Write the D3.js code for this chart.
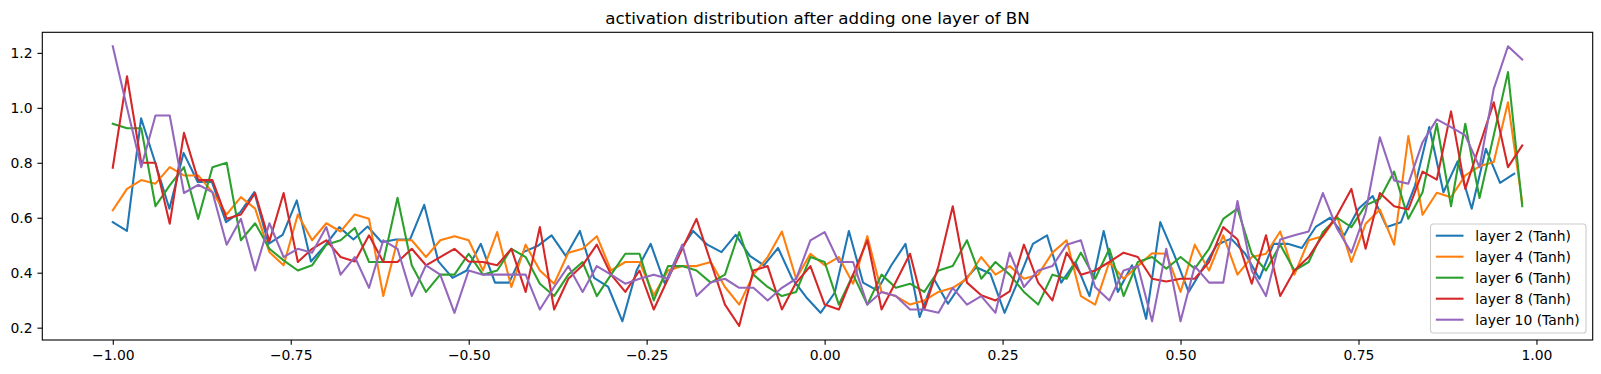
<!DOCTYPE html>
<html>
<head>
<meta charset="utf-8">
<script src="https://cdn.jsdelivr.net/npm/d3@7"></script>
<style>
  body { margin: 0; background: #fff; }
  svg text { font-family: "DejaVu Sans", sans-serif; }
</style>
</head>
<body>
<svg id="chart" width="1601" height="374"></svg>
<script>
// histogram densities, one value per bin (100 bins)
const layer2 = [0.584, 0.552, 0.962, 0.80, 0.633, 0.836, 0.73, 0.73, 0.584, 0.62,
  0.693, 0.505, 0.538, 0.663, 0.441, 0.499, 0.566, 0.521, 0.568, 0.511,
  0.521, 0.521, 0.647, 0.441, 0.381, 0.408, 0.505, 0.364, 0.364, 0.475,
  0.497, 0.536, 0.461, 0.552, 0.381, 0.348, 0.223, 0.408, 0.505, 0.36,
  0.475, 0.552, 0.502, 0.475, 0.538, 0.461, 0.427, 0.49, 0.378, 0.31,
  0.254, 0.327, 0.552, 0.364, 0.336, 0.427, 0.505, 0.239, 0.378, 0.287,
  0.364, 0.42, 0.396, 0.254, 0.376, 0.505, 0.536, 0.364, 0.439, 0.315,
  0.552, 0.33, 0.427, 0.232, 0.584, 0.463, 0.33, 0.415, 0.502, 0.524,
  0.469, 0.378, 0.505, 0.505, 0.49, 0.568, 0.60, 0.536, 0.633, 0.679,
  0.566, 0.584, 0.718, 0.93, 0.693, 0.805, 0.633, 0.851, 0.727, 0.76];

const layer4 = [0.627, 0.705, 0.737, 0.724, 0.784, 0.754, 0.754, 0.693, 0.612, 0.675,
  0.633, 0.475, 0.427, 0.612, 0.518, 0.58, 0.55, 0.612, 0.596, 0.315,
  0.518, 0.518, 0.457, 0.518, 0.533, 0.518, 0.408, 0.548, 0.348, 0.502,
  0.408, 0.36, 0.473, 0.487, 0.533, 0.408, 0.439, 0.439, 0.318, 0.408,
  0.424, 0.424, 0.439, 0.348, 0.284, 0.393, 0.457, 0.55, 0.378, 0.469,
  0.427, 0.457, 0.36, 0.533, 0.33, 0.315, 0.284, 0.299, 0.33, 0.345,
  0.378, 0.457, 0.393, 0.424, 0.378, 0.393, 0.473, 0.518, 0.315, 0.284,
  0.439, 0.378, 0.424, 0.471, 0.469, 0.33, 0.502, 0.408, 0.536, 0.393,
  0.457, 0.469, 0.55, 0.393, 0.518, 0.533, 0.605, 0.439, 0.578, 0.63,
  0.502, 0.897, 0.611, 0.691, 0.675, 0.754, 0.787, 0.803, 1.02, 0.655];

const layer6 = [0.942, 0.926, 0.926, 0.642, 0.718, 0.784, 0.596, 0.784, 0.80, 0.518,
  0.58, 0.487, 0.445, 0.408, 0.427, 0.502, 0.518, 0.563, 0.439, 0.439,
  0.673, 0.427, 0.33, 0.393, 0.393, 0.469, 0.393, 0.408, 0.487, 0.457,
  0.36, 0.315, 0.393, 0.439, 0.315, 0.393, 0.469, 0.469, 0.299, 0.424,
  0.424, 0.408, 0.364, 0.393, 0.548, 0.393, 0.348, 0.315, 0.33, 0.457,
  0.439, 0.284, 0.393, 0.284, 0.393, 0.345, 0.36, 0.33, 0.408, 0.424,
  0.518, 0.378, 0.439, 0.393, 0.33, 0.284, 0.393, 0.378, 0.473, 0.378,
  0.487, 0.315, 0.439, 0.457, 0.415, 0.457, 0.415, 0.487, 0.596, 0.633,
  0.469, 0.408, 0.502, 0.408, 0.439, 0.548, 0.60, 0.566, 0.645, 0.669,
  0.768, 0.596, 0.693, 0.942, 0.642, 0.942, 0.672, 0.90, 1.13, 0.642];

const layer8 = [0.782, 1.115, 0.80, 0.80, 0.578, 0.909, 0.737, 0.737, 0.596, 0.612,
  0.69, 0.514, 0.69, 0.439, 0.487, 0.518, 0.457, 0.441, 0.536, 0.439,
  0.439, 0.487, 0.427, 0.457, 0.487, 0.441, 0.439, 0.427, 0.487, 0.33,
  0.566, 0.266, 0.378, 0.427, 0.502, 0.393, 0.33, 0.408, 0.266, 0.378,
  0.487, 0.596, 0.439, 0.284, 0.206, 0.408, 0.424, 0.266, 0.364, 0.424,
  0.284, 0.266, 0.393, 0.518, 0.266, 0.366, 0.469, 0.266, 0.424, 0.642,
  0.364, 0.318, 0.299, 0.332, 0.502, 0.364, 0.299, 0.473, 0.393, 0.408,
  0.439, 0.473, 0.457, 0.378, 0.368, 0.378, 0.378, 0.439, 0.566, 0.521,
  0.36, 0.536, 0.315, 0.408, 0.457, 0.536, 0.61, 0.705, 0.487, 0.69,
  0.642, 0.63, 0.768, 0.739, 0.987, 0.705, 0.863, 1.02, 0.784, 0.863];

const layer10 = [1.224, 1.0, 0.784, 0.972, 0.972, 0.69, 0.72, 0.693, 0.502, 0.596,
  0.408, 0.58, 0.457, 0.487, 0.473, 0.566, 0.393, 0.457, 0.345, 0.518,
  0.487, 0.315, 0.427, 0.393, 0.254, 0.408, 0.393, 0.393, 0.393, 0.393,
  0.266, 0.348, 0.424, 0.33, 0.424, 0.393, 0.36, 0.378, 0.393, 0.378,
  0.502, 0.315, 0.364, 0.378, 0.345, 0.345, 0.299, 0.345, 0.378, 0.518,
  0.548, 0.439, 0.439, 0.284, 0.33, 0.315, 0.266, 0.266, 0.254, 0.345,
  0.284, 0.315, 0.254, 0.473, 0.348, 0.408, 0.424, 0.502, 0.518, 0.348,
  0.299, 0.408, 0.424, 0.223, 0.487, 0.223, 0.424, 0.364, 0.364, 0.661,
  0.408, 0.315, 0.521, 0.536, 0.55, 0.69, 0.56, 0.473, 0.62, 0.893,
  0.736, 0.724, 0.875, 0.958, 0.93, 0.90, 0.784, 1.069, 1.224, 1.176];

const seriesNames = ["layer 2 (Tanh)", "layer 4 (Tanh)", "layer 6 (Tanh)", "layer 8 (Tanh)", "layer 10 (Tanh)"];
const seriesValues = [layer2, layer4, layer6, layer8, layer10];
// histogram range (min, max of the activations) for each layer
const binLow = [-1, -1, -1, -1, -1];
const binHigh = [0.9886, 1, 1, 1, 1];
const xTicks = [-1.0, -0.75, -0.5, -0.25, 0, 0.25, 0.5, 0.75, 1.0];
const yTicks = [0.2, 0.4, 0.6, 0.8, 1.0, 1.2];
const title = "activation distribution after adding one layer of BN";

const colors = ["#1f77b4", "#ff7f0e", "#2ca02c", "#d62728", "#9467bd"];

const svg = d3.select("#chart");
const plotLeft = 42.3, plotRight = 1592.7, plotTop = 32.3, plotBottom = 340;

// left bin edges, like hx[:-1]
const series = seriesValues.map((vals, k) => {
  const step = (binHigh[k] - binLow[k]) / vals.length;
  return vals.map((v, i) => [binLow[k] + i * step, v]);
});

const allX = series.flat().map(d => d[0]);
const allY = series.flat().map(d => d[1]);
const [x0, x1] = d3.extent(allX);
const [y0, y1] = d3.extent(allY);
const mx = (x1 - x0) * 0.05, my = (y1 - y0) * 0.05;

const xScale = d3.scaleLinear().domain([x0 - mx, x1 + mx]).range([plotLeft, plotRight]);
const yScale = d3.scaleLinear().domain([y0 - my, y1 + my]).range([plotBottom, plotTop]);

const minus = s => s.replace("-", "\u2212");

const xAxis = d3.axisBottom(xScale)
  .tickValues(xTicks)
  .tickFormat(d => minus(d3.format(".2f")(d)))
  .tickSize(4.86).tickSizeOuter(0).tickPadding(4.86);
const gx = svg.append("g")
  .attr("transform", `translate(0,${plotBottom})`)
  .call(xAxis);

const yAxis = d3.axisLeft(yScale)
  .tickValues(yTicks)
  .tickFormat(d3.format(".1f"))
  .tickSize(4.86).tickSizeOuter(0).tickPadding(4.86);
const gy = svg.append("g")
  .attr("transform", `translate(${plotLeft},0)`)
  .call(yAxis);

[gx, gy].forEach(g => {
  g.select(".domain").remove();
  g.selectAll(".tick line").attr("stroke", "#000").attr("stroke-width", 1.1);
  g.selectAll(".tick text").attr("fill", "#000").style("font-size", "13.9px");
});

svg.append("defs").append("clipPath").attr("id", "plot")
  .append("rect")
  .attr("x", plotLeft).attr("y", plotTop)
  .attr("width", plotRight - plotLeft).attr("height", plotBottom - plotTop);

const myLine = d3.line()
  .x(d => xScale(d[0]))
  .y(d => yScale(d[1]));

svg.append("g").attr("clip-path", "url(#plot)")
  .selectAll(".line")
  .data(series)
  .join("path")
  .attr("class", "line")
  .attr("d", myLine)
  .attr("fill", "none")
  .attr("stroke", (d, i) => colors[i])
  .attr("stroke-width", 2.08)
  .attr("stroke-linejoin", "round")
  .attr("stroke-linecap", "square");

// spines
svg.append("rect")
  .attr("x", plotLeft).attr("y", plotTop)
  .attr("width", plotRight - plotLeft).attr("height", plotBottom - plotTop)
  .attr("fill", "none")
  .attr("stroke", "#000")
  .attr("stroke-width", 1.1);

svg.append("text")
  .attr("x", (plotLeft + plotRight) / 2)
  .attr("y", 24)
  .attr("text-anchor", "middle")
  .style("font-size", "16.7px")
  .text(title);

// legend, lower right
const legend = svg.append("g").attr("transform", "translate(1430.5,224)");
legend.append("rect")
  .attr("width", 155.5).attr("height", 109)
  .attr("rx", 2.8)
  .attr("fill", "#fff").attr("fill-opacity", 0.8)
  .attr("stroke", "#cccccc").attr("stroke-width", 1.1);

const rows = legend.selectAll(".row")
  .data(seriesNames)
  .join("g")
  .attr("class", "row")
  .attr("transform", (d, i) => `translate(0,${11.7 + i * 21})`);
rows.append("line")
  .attr("x1", 5.3).attr("x2", 33)
  .attr("stroke", (d, i) => colors[i])
  .attr("stroke-width", 2.08);
rows.append("text")
  .attr("x", 44.8)
  .attr("dy", "0.36em")
  .style("font-size", "13.9px")
  .attr("fill", "#000")
  .text(d => d);
</script>
</body>
</html>
